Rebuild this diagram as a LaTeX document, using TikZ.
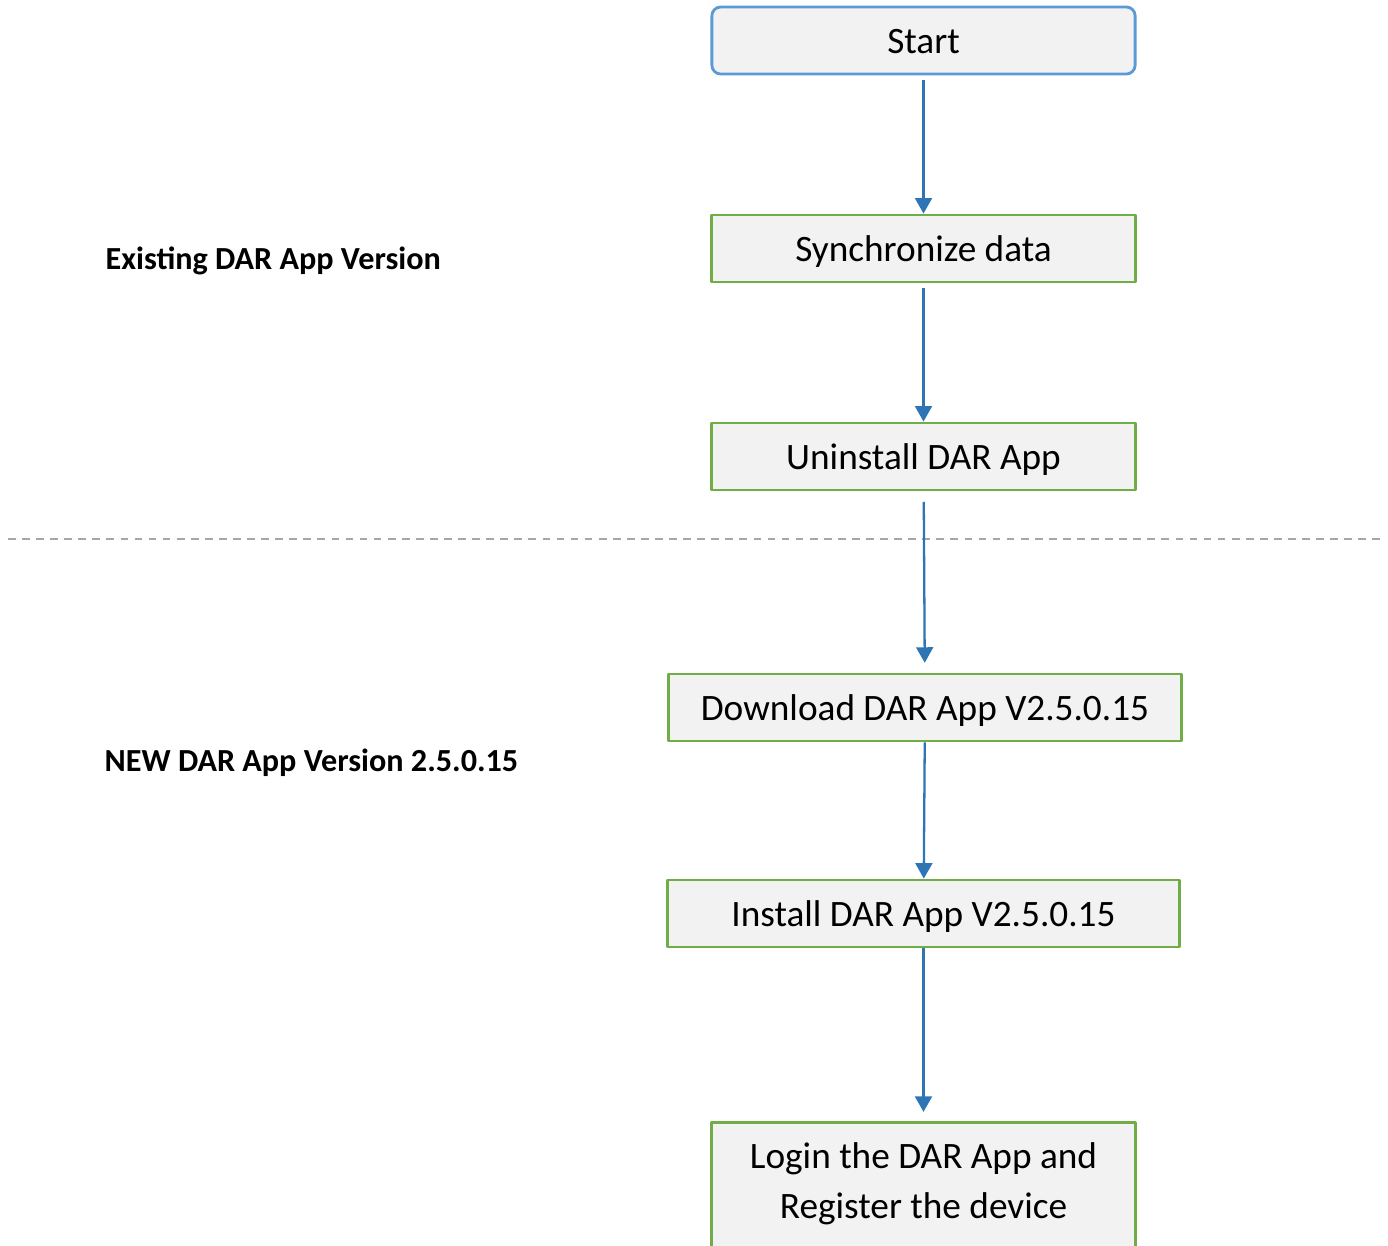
\documentclass[tikz,border=0pt]{standalone}
\usepackage{fontspec}
\setmainfont{Carlito}
\usetikzlibrary{arrows.meta}
\definecolor{startblue}{HTML}{5B9BD5}
\definecolor{stepgreen}{HTML}{70AD47}
\definecolor{boxfill}{HTML}{F2F2F2}
\definecolor{flowblue}{HTML}{2E75B6}
\definecolor{sepgray}{HTML}{A6A6A6}
\begin{document}
\begin{tikzpicture}[x=0.01cm,y=-0.01cm,line join=round,>={Triangle[width=4.8pt,length=4.4pt]}]
	\tikzset{box/.style={fill=boxfill,line width=0.8pt,minimum height=0.67cm,inner sep=0pt,text height=9pt,text depth=1.5pt,font=\fontsize{10.6}{14}\selectfont},
		startbox/.style={box,draw=startblue,rounded corners=2.5pt,minimum width=4.23cm},
		stepbox/.style={box,draw=stepgreen},
		flow/.style={->,draw=flowblue,fill=flowblue,line width=0.65pt},
		sidelabel/.style={anchor=west,inner sep=0pt,font=\fontsize{9.15}{11}\selectfont\bfseries}}
	\useasboundingbox (0,0) rectangle (1388,1245);
	\draw[sepgray,line width=0.6pt,dash pattern=on 2.2pt off 1.8pt] (8,539)--(1380,539);
	\node[startbox] (start) at (923.5,40.5) {Start};
	\node[stepbox,minimum width=4.23cm] (sync) at (923.5,248.5) {Synchronize data};
	\node[stepbox,minimum width=4.23cm] (uninstall) at (923.5,456.5) {Uninstall DAR App};
	\node[stepbox,minimum width=5.12cm] (download) at (925,707.5) {Download DAR App V2.5.0.15};
	\node[stepbox,minimum width=5.11cm] (install) at (923.5,913.5) {Install DAR App V2.5.0.15};
	\node[stepbox,minimum width=4.23cm,anchor=north,align=center,inner ysep=6pt,text height=21.2pt,text depth=14pt] (login) at (923.5,1121) {Login the DAR App and\\Register the device};
	\node[sidelabel] (oldver) at (105,261) {Existing DAR App Version};
	\node[sidelabel] (newver) at (104,763) {NEW DAR App Version 2.5.0.15};
	\draw[flow,shorten <=1.4pt] (start) -- (sync);
	\draw[flow,shorten <=1.4pt] (sync) -- (uninstall);
	\draw[flow,shorten <=3pt,shorten >=2.8pt] (uninstall) -- (download);
	\draw[flow] (download) -- (install);
	\draw[flow,shorten >=2.6pt] (install) -- (login);
\end{tikzpicture}
\end{document}
